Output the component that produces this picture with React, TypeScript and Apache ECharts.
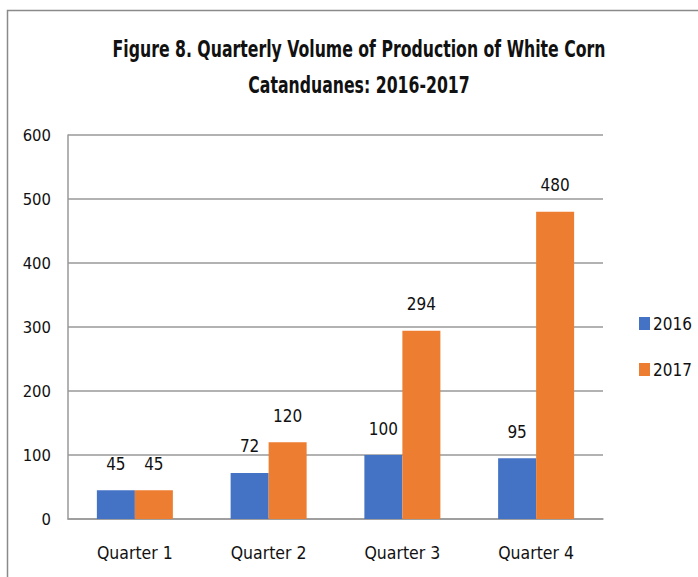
import React, { useEffect, useRef } from "react";
import * as echarts from "echarts";

const categories = ["Quarter 1", "Quarter 2", "Quarter 3", "Quarter 4"];
const values2016 = [45, 72, 100, 95];
const values2017 = [45, 120, 294, 480];
const seriesNames = ["2016", "2017"];
const titleLines = ["Figure 8. Quarterly Volume of Production of White Corn", "Catanduanes: 2016-2017"];

const FONT = "'Liberation Sans Narrow', 'DejaVu Sans Condensed', sans-serif";

export default function App() {
  const ref = useRef<HTMLDivElement>(null);
  useEffect(() => {
    if (!ref.current) return;
    const chart = echarts.init(ref.current, null, { renderer: "svg" });
    const labelStyle = {
      show: true,
      position: "top" as const,
      distance: 18,
      color: "#111",
      fontSize: 17,
      fontFamily: FONT,
    };
    const titleFont = "bold 23px " + FONT;
    chart.setOption({
      animation: false,
      backgroundColor: "#ffffff",
      textStyle: { fontFamily: FONT },
      graphic: [
        {
          type: "rect",
          shape: { x: 7.5, y: 10.5, width: 720, height: 600 },
          style: { fill: "none", stroke: "#8a8a8a", lineWidth: 1.5 },
          silent: true,
          z: -1,
        },
        {
          type: "text",
          x: 359,
          y: 49,
          scaleX: 0.76,
          style: {
            text: titleLines[0],
            font: titleFont,
            fill: "#111",
            textAlign: "center",
            textVerticalAlign: "middle",
          },
        },
        {
          type: "text",
          x: 359,
          y: 85,
          scaleX: 0.76,
          style: {
            text: titleLines[1],
            font: titleFont,
            fill: "#111",
            textAlign: "center",
            textVerticalAlign: "middle",
          },
        },
      ],
      legend: {
        orient: "vertical",
        left: 634,
        top: 310,
        itemWidth: 11,
        itemHeight: 13,
        itemGap: 29,
        icon: "rect",
        data: seriesNames,
        textStyle: { fontSize: 17, color: "#111", fontFamily: FONT, padding: [0, 0, 0, -2] },
      },
      grid: { left: 68, right: 95, top: 135, bottom: 58, containLabel: false },
      xAxis: {
        type: "category",
        data: categories,
        axisLine: { lineStyle: { color: "#999", width: 1.5 } },
        axisTick: { show: false },
        axisLabel: { fontSize: 17.5, color: "#111", margin: 25, fontFamily: FONT },
      },
      yAxis: {
        type: "value",
        min: 0,
        max: 600,
        interval: 100,
        axisLine: { show: true, lineStyle: { color: "#999", width: 1.5 } },
        axisTick: { show: false },
        splitLine: { lineStyle: { color: "#999", width: 1.5 } },
        axisLabel: { fontSize: 16.5, color: "#111", margin: 17, fontFamily: FONT },
      },
      series: [
        {
          name: seriesNames[0],
          type: "bar",
          data: values2016,
          barWidth: 38,
          barGap: "0%",
          itemStyle: { color: "#4472C4" },
          label: labelStyle,
        },
        {
          name: seriesNames[1],
          type: "bar",
          data: values2017,
          barWidth: 38,
          barGap: "0%",
          itemStyle: { color: "#ED7D31" },
          label: labelStyle,
        },
      ],
    });
    return () => chart.dispose();
  }, []);
  return (
    <div
      ref={ref}
      style={{ position: "fixed", left: 0, top: 0, width: 698, height: 577 }}
    />
  );
}
